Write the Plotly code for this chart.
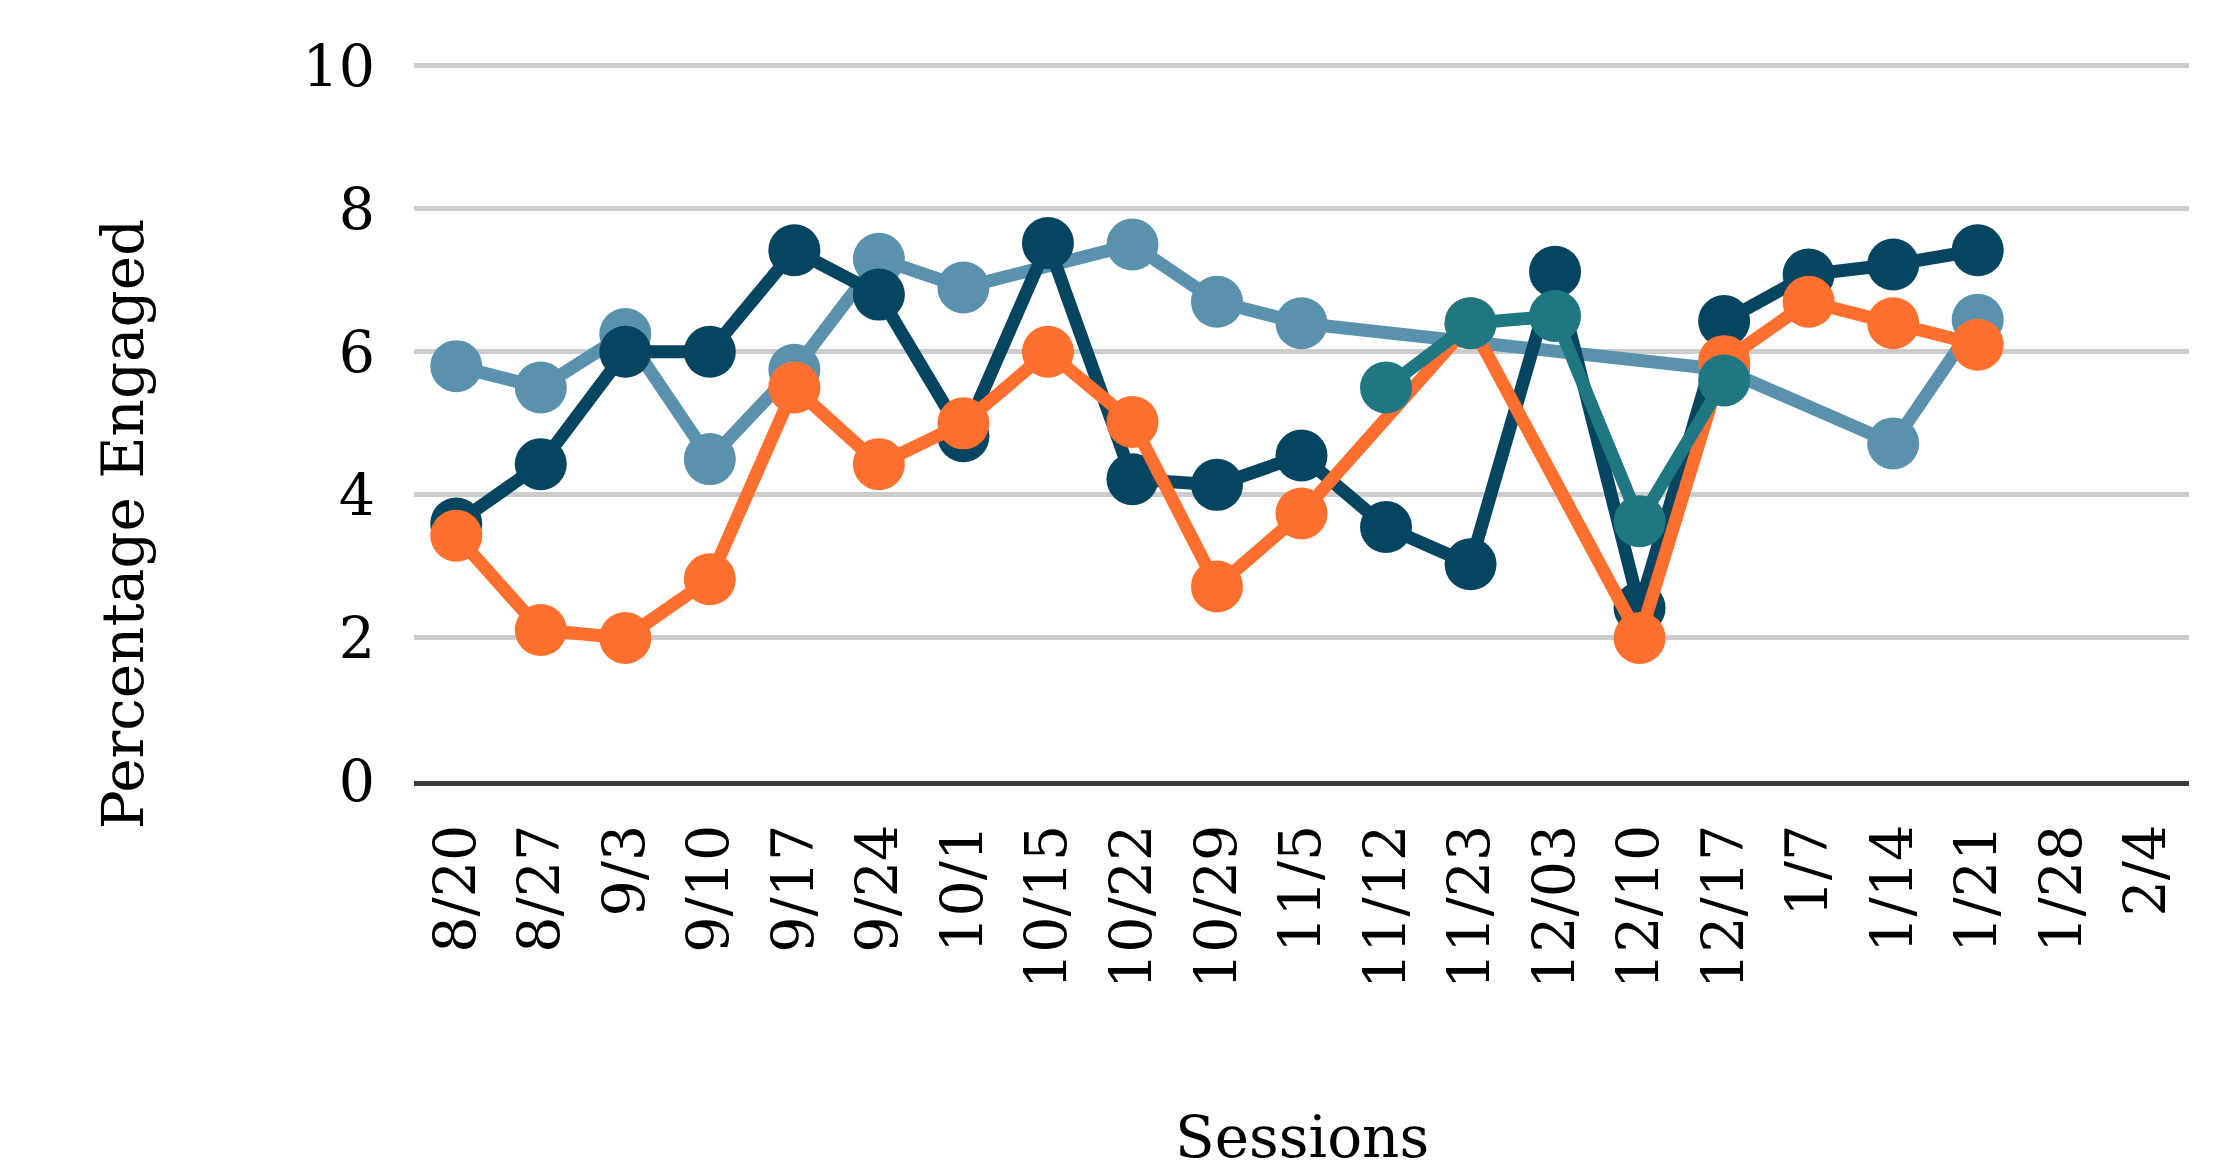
import plotly.graph_objects as go

sessions = ["8/20", "8/27", "9/3", "9/10", "9/17", "9/24", "10/1", "10/15", "10/22",
            "10/29", "11/5", "11/12", "11/23", "12/03", "12/10", "12/17", "1/7",
            "1/14", "1/21", "1/28", "2/4"]

series_light = [5.8, 5.5, 6.25, 4.5, 5.75, 7.3, 6.9, None, 7.5, 6.7, 6.4,
                None, None, None, None, 5.75, None, 4.72, 6.45, None, None]
series_navy = [3.6, 4.43, 6.0, 6.0, 7.42, 6.8, 4.82, 7.52, 4.22, 4.14, 4.55,
               3.55, 3.03, 7.12, 2.42, 6.43, 7.08, 7.22, 7.42, None, None]
series_orange = [3.43, 2.11, 2.0, 2.82, 5.5, 4.43, 5.0, 6.0, 5.02, 2.72, 3.74,
                 None, 6.4, None, 2.0, 5.87, 6.7, 6.4, 6.1, None, None]
series_teal = [None, None, None, None, None, None, None, None, None, None, None,
               5.5, 6.4, 6.5, 3.63, 5.6, None, None, None, None, None]

y_ticks = [0, 2, 4, 6, 8, 10]

colors = {
    "light": "#5a92ae",
    "navy": "#06455f",
    "orange": "#ff6f2e",
    "teal": "#1f7781",
}

FONT = "DejaVu Serif"

fig = go.Figure()
for name, vals in [("light", series_light), ("navy", series_navy),
                   ("orange", series_orange), ("teal", series_teal)]:
    fig.add_trace(go.Scatter(
        x=sessions, y=vals, mode="lines+markers", connectgaps=True,
        line=dict(color=colors[name], width=13),
        marker=dict(color=colors[name], size=52, line=dict(width=0)),
        showlegend=False, hoverinfo="skip",
    ))

fig.update_layout(
    width=2231, height=1174,
    margin=dict(l=406, r=50, t=52, b=401),
    plot_bgcolor="white", paper_bgcolor="white",
    font=dict(family=FONT, color="black"),
    xaxis=dict(
        type="category", categoryorder="array", categoryarray=sessions,
        range=[-0.5, len(sessions) - 0.5],
        tickangle=-90, tickfont=dict(family=FONT, size=57, color="black"),
        showgrid=False, showline=True, linecolor="#3c3c3c", linewidth=5,
        ticks="", ticklabelstandoff=16, zeroline=False,
    ),
    yaxis=dict(
        range=[0, 10.08], tickvals=y_ticks, ticktext=[str(v) for v in y_ticks],
        tickfont=dict(family=FONT, size=57, color="black"),
        showgrid=True, gridcolor="#cccccc", gridwidth=5,
        zeroline=False, showline=False, ticks="", ticklabelstandoff=38,
    ),
    annotations=[
        dict(text="Percentage Engaged", xref="paper", yref="paper",
             x=-0.164, y=0.356, xanchor="center", yanchor="middle",
             textangle=-90, showarrow=False,
             font=dict(family=FONT, size=58, color="black")),
        dict(text="Sessions", xref="paper", yref="paper",
             x=0.5, y=-0.494, xanchor="center", yanchor="middle",
             showarrow=False,
             font=dict(family=FONT, size=58, color="black")),
    ],
)

fig.write_html("out.html")
